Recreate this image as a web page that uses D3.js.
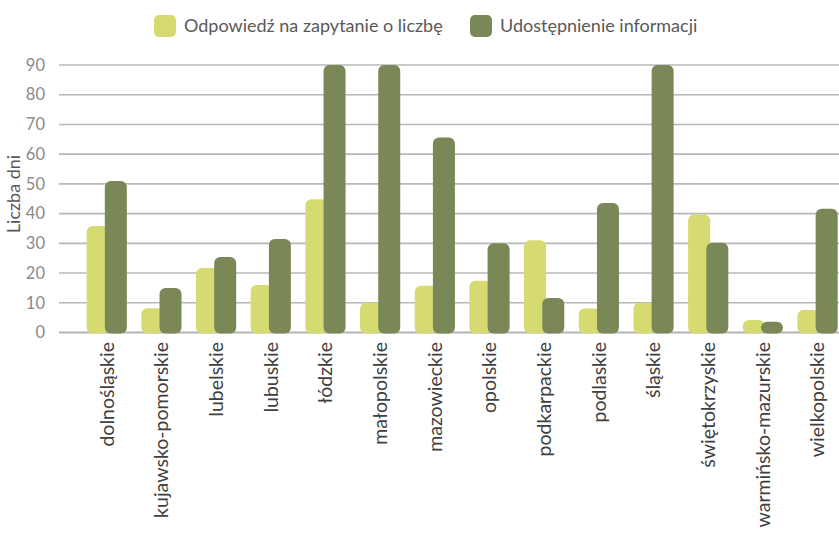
<!DOCTYPE html>
<html>
<head>
<meta charset="utf-8">
<script src="https://cdn.jsdelivr.net/npm/d3@7/dist/d3.min.js"></script>
<style>
  html, body { margin: 0; padding: 0; background: #fff; }
  svg { display: block; }
  text { font-family: Lato, "Open Sans", sans-serif; font-weight: 400; }
</style>
</head>
<body>
<svg id="chart" width="839" height="535"></svg>
<script>
const categories = ["dolnośląskie","kujawsko-pomorskie","lubelskie","lubuskie","łódzkie","małopolskie","mazowieckie","opolskie","podkarpackie","podlaskie","śląskie","świętokrzyskie","warmińsko-mazurskie","wielkopolskie"];
const seriesNames = ["Odpowiedź na zapytanie o liczbę","Udostępnienie informacji"];
const odpowiedz = [35.8, 8.2, 21.7, 16, 44.8, 10, 15.7, 17.4, 31, 8.1, 10, 39.7, 4.2, 7.6];
const udostepnienie = [51, 15, 25.4, 31.5, 90, 90, 65.6, 30, 11.6, 43.6, 90, 30.2, 3.6, 41.6];
const yTicks = [0, 10, 20, 30, 40, 50, 60, 70, 80, 90];
const yTitle = "Liczba dni";

const colors = ["#d6db71", "#798856"];
const svg = d3.select("#chart");

const x = d3.scaleBand().domain(categories).range([79.5, 845]).paddingInner(0).paddingOuter(0);
const y = d3.scaleLinear().domain([0, 90]).range([332.5, 65]);
const barW = 22;
const offsets = [-20.2, -2];

// gridlines
svg.append("g").selectAll("line").data(yTicks).join("line")
  .attr("x1", 59).attr("x2", 839)
  .attr("y1", d => y(d)).attr("y2", d => y(d))
  .attr("stroke", d => d === 0 ? "#b3b3b3" : "#b8b8b8")
  .attr("stroke-width", d => d === 0 ? 2 : 1.6);

// y tick labels
svg.append("g").selectAll("text").data(yTicks).join("text")
  .attr("x", 45).attr("y", d => y(d)).attr("dy", "0.35em")
  .attr("text-anchor", "end")
  .attr("font-size", 16.5).attr("fill", "#8a8a8a")
  .text(d => d);

// y title
svg.append("text")
  .attr("transform", "translate(14,194) rotate(-90)")
  .attr("text-anchor", "middle").attr("dy", "0.35em")
  .attr("font-size", 18).attr("fill", "#595959")
  .text(yTitle);

// bars
const seriesData = [odpowiedz, udostepnienie];
seriesData.forEach((vals, si) => {
  svg.append("g").selectAll("rect").data(categories).join("rect")
    .attr("x", (c) => x(c) + x.bandwidth() / 2 + offsets[si])
    .attr("width", barW)
    .attr("y", (c, i) => y(vals[i]))
    .attr("height", (c, i) => y(0) - y(vals[i]) + 1)
    .attr("rx", 6).attr("ry", 6)
    .attr("fill", colors[si]);
});

// category labels
svg.append("g").selectAll("text").data(categories).join("text")
  .attr("transform", c => `translate(${x(c) + x.bandwidth() / 2},342) rotate(-90)`)
  .attr("text-anchor", "end").attr("dy", "0.35em")
  .attr("font-size", 19.5).attr("fill", "#404040")
  .text(c => c);

// legend
const legendX = [154, 470];
seriesNames.forEach((n, i) => {
  const g = svg.append("g").attr("transform", `translate(${legendX[i]},15)`);
  g.append("rect").attr("width", 22).attr("height", 22).attr("rx", 5).attr("fill", colors[i]);
  g.append("text").attr("x", 30).attr("y", 11).attr("dy", "0.35em")
    .attr("font-size", 18).attr("fill", "#595959").text(n);
});
</script>
</body>
</html>
